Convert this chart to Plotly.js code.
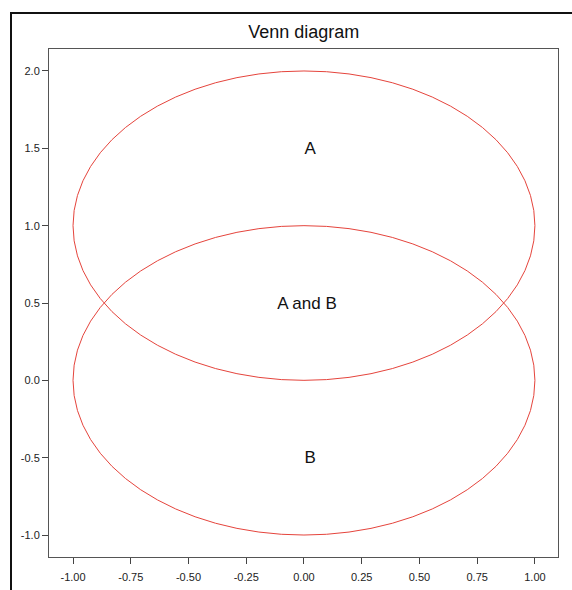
<!DOCTYPE html>
<html><head><meta charset="utf-8">
<script src="https://cdn.plot.ly/plotly-3.0.1.min.js"></script>
<style>
html,body{margin:0;padding:0;background:#fff;}
#wrap{position:relative;width:572px;height:590px;overflow:hidden;}
#chart{position:absolute;left:0;top:0;width:572px;height:590px;}
#frame{position:absolute;left:10px;top:12px;width:700px;height:700px;border-left:2px solid #111;border-top:2px solid #111;pointer-events:none;}
</style></head>
<body><div id="wrap"><div id="chart"></div><div id="frame"></div></div>
<script>
const setNames = ["A", "B"];
const centerX = [0, 0];
const centerY = [1, 0];
const radius = [1, 1];
const labelText = ["A", "A and B", "B"];
const labelX = [0.027, 0.013, 0.027];
const labelY = [1.49, 0.49, -0.51];
const xTickVals = [-1, -0.75, -0.5, -0.25, 0, 0.25, 0.5, 0.75, 1];
const xTickText = ["-1.00", "-0.75", "-0.50", "-0.25", "0.00", "0.25", "0.50", "0.75", "1.00"];
const yTickVals = [-1, -0.5, 0, 0.5, 1, 1.5, 2];
const yTickText = ["-1.0", "-0.5", "0.0", "0.5", "1.0", "1.5", "2.0"];

const shapes = setNames.map((n, i) => ({
  type: 'circle', xref: 'x', yref: 'y',
  x0: centerX[i] - radius[i], x1: centerX[i] + radius[i],
  y0: centerY[i] - radius[i], y1: centerY[i] + radius[i],
  line: {color: '#e5443c', width: 1}
}));

const trace = {
  x: labelX, y: labelY, text: labelText, mode: 'text', type: 'scatter',
  textfont: {family: 'Liberation Sans, Arial, sans-serif', size: 17, color: '#111'},
  hoverinfo: 'none', showlegend: false
};

const axisBase = {
  showline: true, mirror: true, linecolor: '#555', linewidth: 1,
  ticks: 'outside', ticklen: 6, tickcolor: '#444', showgrid: false, zeroline: false,
  tickmode: 'array',
  tickfont: {family: 'Liberation Sans, Arial, sans-serif', size: 11, color: '#222'}
};

Plotly.newPlot('chart', [trace], {
  width: 572, height: 590,
  margin: {l: 49, r: 14, t: 49, b: 33},
  paper_bgcolor: '#fff', plot_bgcolor: '#fff',
  title: {text: 'Venn diagram', x: 0.531, xanchor: 'center', y: 0.946, yanchor: 'middle',
    font: {family: 'Liberation Sans, Arial, sans-serif', size: 18, color: '#111'}},
  xaxis: Object.assign({}, axisBase, {range: [-1.104, 1.1], tickvals: xTickVals, ticktext: xTickText, ticklabelstandoff: 4}),
  yaxis: Object.assign({}, axisBase, {range: [-1.142, 2.142], tickvals: yTickVals, ticktext: yTickText, ticklabelstandoff: 0}),
  shapes: shapes,
  showlegend: false
}, {displayModeBar: false, staticPlot: true});
</script></body></html>
